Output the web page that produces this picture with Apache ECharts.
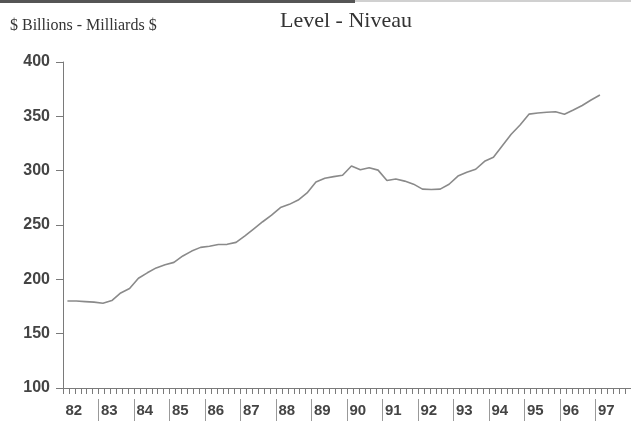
<!DOCTYPE html>
<html lang="en">
<head>
    <meta charset="UTF-8">
    <title>Level - Niveau</title>
    <script src="https://cdn.jsdelivr.net/npm/echarts@6/dist/echarts.min.js"></script>
</head>
<body style="margin:0;background:#fff">
<div id="main" style="width: 631px;height:425px;"></div>
<script>
// year tick labels (one band per year)
var years = ['82', '83', '84', '85', '86', '87', '88', '89', '90', '91', '92', '93', '94', '95', '96', '97'];

// quarterly categories 1982Q1 .. 1997Q4 (the series stops at 1997Q1)
var quarters = [];
years.forEach(function (y) {
    ['Q1', 'Q2', 'Q3', 'Q4'].forEach(function (q) { quarters.push(y + q); });
});

// $ billions, 1982Q1 .. 1997Q1
var level = [
    180, 180, 179.5, 179,
    178, 180.5, 187.5, 191.5,
    201, 206, 210.5, 213.5,
    215.6, 221.5, 226, 229.4,
    230.5, 232, 232.2, 234,
    240, 246.5, 253, 259,
    266, 269, 273, 279.5,
    289.5, 293, 294.5, 295.8,
    304.3, 300.8, 302.7, 300.5,
    291, 292.3, 290.4, 287.6,
    283, 282.7, 283, 287.5,
    295, 298.5, 301.3, 308.6,
    312.4, 323, 333.5, 342,
    352, 353, 353.7, 354.2,
    352, 355.8, 360, 365,
    369.6
];

var axisColor = '#7a7a7a';

var myChart = echarts.init(document.getElementById('main'));

var option = {
    animation: false,
    backgroundColor: '#fff',
    graphic: [
        { type: 'rect', shape: { x: 0, y: 0, width: 355, height: 3 }, style: { fill: '#555' } },
        { type: 'rect', shape: { x: 355, y: 0, width: 276, height: 2 }, style: { fill: '#d0d0d0' } }
    ],
    title: [{
        text: '$ Billions - Milliards $',
        left: 5, top: 13,
        textStyle: { fontFamily: 'Liberation Serif', fontWeight: 'normal', fontSize: 16, color: '#333' }
    }, {
        text: 'Level - Niveau',
        left: 275, top: 5,
        textStyle: { fontFamily: 'Liberation Serif', fontWeight: 'normal', fontSize: 22, color: '#333' }
    }],
    grid: { left: 63, right: 0, top: 62, bottom: 37, outerBoundsMode: 'none' },
    xAxis: [{
        // axis line with small ticks, six per year
        type: 'value', min: 1982, max: 1998, interval: 1,
        axisLine: { show: true, lineStyle: { color: axisColor, width: 1 } },
        axisTick: { show: true, length: 6, lineStyle: { color: axisColor } },
        minorTick: { show: true, splitNumber: 6, length: 6, lineStyle: { color: axisColor } },
        axisLabel: { show: false },
        splitLine: { show: false }
    }, {
        // year separators and labels
        type: 'category', data: years, boundaryGap: true, position: 'bottom', offset: 11,
        axisLine: { show: false },
        axisTick: { show: true, length: 22, interval: function (i) { return i > 0; }, lineStyle: { color: '#999' } },
        axisLabel: {
            margin: 4, interval: 0, padding: [0, 14, 0, 0],
            fontFamily: 'Liberation Sans', fontWeight: 'bold', fontSize: 15, color: '#444'
        }
    }, {
        type: 'category', data: quarters, boundaryGap: true, show: false
    }],
    yAxis: {
        type: 'value', min: 100, max: 400, interval: 50,
        axisLine: { show: true, lineStyle: { color: axisColor, width: 1 } },
        axisTick: { show: true, length: 7, lineStyle: { color: axisColor } },
        axisLabel: {
            margin: 13,
            fontFamily: 'Liberation Sans', fontWeight: 'bold', fontSize: 16, color: '#444'
        },
        splitLine: { show: false }
    },
    series: [{
        name: 'Level',
        type: 'line',
        xAxisIndex: 2,
        data: level,
        showSymbol: false,
        symbol: 'none',
        lineStyle: { color: '#8a8a8a', width: 1.6 }
    }]
};

myChart.setOption(option);
</script>
</body>
</html>
